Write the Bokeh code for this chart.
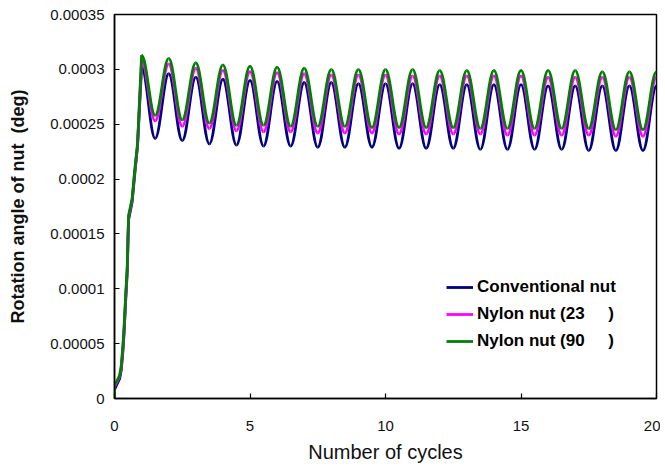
from bokeh.plotting import figure
from bokeh.models import Range1d, FixedTicker, Legend, LegendItem
from bokeh.embed import file_html
from bokeh.resources import INLINE

NB = "\u00a0"
series_names = [
    "Conventional nut",
    "Nylon nut" + NB + "(23" + NB * 5 + ")",
    "Nylon nut" + NB + "(90" + NB * 5 + ")",
]
series_colors = ["#000080", "#FF00FF", "#008000"]

x_ticks = [0, 5, 10, 15, 20]
y_ticks = [0, 0.00005, 0.0001, 0.00015, 0.0002, 0.00025, 0.0003, 0.00035]
y_tick_labels = ["0", "0.00005", "0.0001", "0.00015", "0.0002", "0.00025", "0.0003", "0.00035"]

# initial loading ramp (cycles 0 .. ~0.85)
rise_x = [0.0, 0.0, 0.07, 0.19, 0.25, 0.31, 0.35, 0.41, 0.47, 0.50, 0.52, 0.65, 0.75, 0.85]
conv_rise = [0.000008, 0.000008, 0.000012, 0.000018, 0.000026, 0.000043, 0.000058, 0.000088, 0.000115, 0.000145, 0.000163, 0.000179, 0.000205, 0.000230]
ny23_rise = [0.000011, 0.000011, 0.000014, 0.000020, 0.000028, 0.000046, 0.000061, 0.000091, 0.000118, 0.000148, 0.000165, 0.000181, 0.000207, 0.000231]
ny90_rise = [0.0, 0.0000135, 0.000015, 0.000021, 0.000030, 0.000048, 0.000064, 0.000093, 0.000120, 0.000150, 0.000167, 0.000182, 0.000209, 0.000232]

# cyclic part: maxima at whole cycles, minima at half cycles
peak_x = [1, 2, 3, 4, 5, 6, 7, 8, 9, 10, 11, 12, 13, 14, 15, 16, 17, 18, 19, 20]
trough_x = [1.5, 2.5, 3.5, 4.5, 5.5, 6.5, 7.5, 8.5, 9.5, 10.5, 11.5, 12.5, 13.5, 14.5, 15.5, 16.5, 17.5, 18.5, 19.5]

conv_peaks = [0.000302, 0.000296, 0.000293, 0.000291, 0.000290, 0.000289, 0.000288, 0.000288, 0.000287, 0.000287,
              0.000287, 0.000286, 0.000286, 0.000286, 0.000286, 0.000285, 0.000285, 0.000285, 0.000285, 0.000285]
conv_troughs = [0.000237, 0.000235, 0.000232, 0.000231, 0.000230, 0.000230, 0.000229, 0.000229, 0.000229, 0.000228,
                0.000228, 0.000228, 0.000227, 0.000227, 0.000227, 0.000227, 0.000226, 0.000226, 0.000226]

ny23_peaks = [0.000308, 0.000305, 0.000301, 0.000299, 0.000298, 0.000297, 0.000296, 0.000295, 0.000295, 0.000295,
              0.000294, 0.000294, 0.000294, 0.000294, 0.000294, 0.000293, 0.000293, 0.000293, 0.000293, 0.000293]
ny23_troughs = [0.000253, 0.000248, 0.000246, 0.000244, 0.000243, 0.000243, 0.000242, 0.000242, 0.000242, 0.000241,
                0.000241, 0.000241, 0.000241, 0.000240, 0.000240, 0.000240, 0.000240, 0.000239, 0.000239]

ny90_peaks = [0.000313, 0.000310, 0.000306, 0.000304, 0.000303, 0.000302, 0.000301, 0.000300, 0.000300, 0.000300,
              0.000300, 0.000299, 0.000299, 0.000299, 0.000299, 0.000299, 0.000299, 0.000298, 0.000298, 0.000298]
ny90_troughs = [0.000258, 0.000254, 0.000251, 0.000249, 0.000249, 0.000248, 0.000248, 0.000248, 0.000247, 0.000247,
                0.000247, 0.000247, 0.000246, 0.000246, 0.000246, 0.000246, 0.000246, 0.000245, 0.000245]

FONT = "Liberation Sans"

p = figure(width=660, height=465, output_backend="svg", toolbar_location=None,
           x_range=Range1d(0, 20), y_range=Range1d(0, 0.00035),
           min_border_left=114, min_border_right=4, min_border_top=14, min_border_bottom=63)
p.background_fill_color = "white"
p.border_fill_color = "white"
p.outline_line_color = "black"
p.outline_line_width = 1.5
p.xgrid.visible = False
p.ygrid.visible = False

p.xaxis.ticker = FixedTicker(ticks=x_ticks)
p.yaxis.ticker = FixedTicker(ticks=y_ticks)
p.yaxis.major_label_overrides = {t: s for t, s in zip(y_ticks, y_tick_labels)}
for ax in (p.xaxis, p.yaxis):
    ax.major_tick_in = 5
    ax.major_tick_out = 0
    ax.minor_tick_in = 0
    ax.minor_tick_out = 0
    ax.axis_line_color = "black"
    ax.axis_line_width = 1.5
    ax.major_tick_line_color = "black"
    ax.major_tick_line_width = 1.2
    ax.major_label_text_font = FONT
    ax.major_label_text_font_size = "15px"
    ax.major_label_text_color = "#111111"
    ax.axis_label_text_font = FONT
    ax.axis_label_text_color = "#111111"

p.xaxis.major_label_standoff = 22
p.yaxis.major_label_standoff = 10
p.xaxis.axis_label = "Number of cycles"
p.xaxis.axis_label_text_font_size = "20px"
p.xaxis.axis_label_text_font_style = "normal"
p.xaxis.axis_label_standoff = 7
p.yaxis.axis_label = "Rotation angle of nut" + NB + NB + "(deg)"
p.yaxis.axis_label_text_font_size = "18px"
p.yaxis.axis_label_text_font_style = "bold"
p.yaxis.axis_label_standoff = 19

all_rise = [conv_rise, ny23_rise, ny90_rise]
all_peaks = [conv_peaks, ny23_peaks, ny90_peaks]
all_troughs = [conv_troughs, ny23_troughs, ny90_troughs]

items = []
for name, color, rise, peaks, troughs in zip(series_names, series_colors, all_rise, all_peaks, all_troughs):
    # ramp up to first maximum
    p.line(rise_x + [peak_x[0]], rise + [peaks[0]], line_color=color, line_width=2.8)
    # oscillation: smooth half-waves between successive extrema
    nx, ny = [], []
    for i in range(len(trough_x)):
        nx += [peak_x[i], trough_x[i]]
        ny += [peaks[i], troughs[i]]
    nx.append(peak_x[-1])
    ny.append(peaks[-1])
    x0, y0, x1, y1 = nx[:-1], ny[:-1], nx[1:], ny[1:]
    cx0 = [a + (b - a) * 0.37 for a, b in zip(x0, x1)]
    cx1 = [b - (b - a) * 0.37 for a, b in zip(x0, x1)]
    r = p.bezier(x0=x0, y0=y0, x1=x1, y1=y1, cx0=cx0, cy0=y0, cx1=cx1, cy1=y1,
                 line_color=color, line_width=2.8)
    items.append(LegendItem(label=name, renderers=[r]))

legend = Legend(items=items, location=(332, 47))
legend.label_text_font = FONT
legend.label_text_font_size = "17px"
legend.label_text_font_style = "bold"
legend.label_text_color = "#000000"
legend.glyph_width = 27
legend.glyph_height = 20
legend.label_height = 20
legend.label_standoff = 4
legend.spacing = 7
legend.padding = 0
legend.margin = 0
legend.border_line_alpha = 0
legend.background_fill_alpha = 0
p.add_layout(legend, "center")

open("out.html", "w").write(file_html(p, INLINE))
